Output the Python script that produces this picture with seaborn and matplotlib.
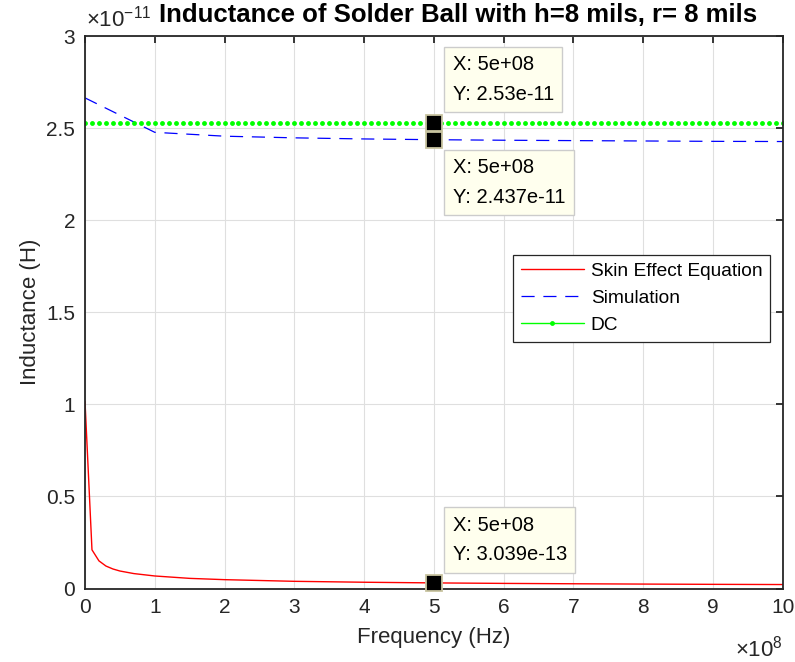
import numpy as np
import pandas as pd
import matplotlib
matplotlib.use("Agg")
import matplotlib.pyplot as plt
import seaborn as sns
from matplotlib.lines import Line2D

# ---------------- data ----------------
freq_skin = np.array([0, 0.1, 0.2, 0.3, 0.4, 0.5, 0.7, 1.0, 1.5, 2, 3, 4, 5, 6, 7, 8, 9, 10]) * 1e8
L_skin = np.array([1.016, 0.21, 0.15, 0.122, 0.106, 0.095, 0.081, 0.068, 0.055, 0.048,
                   0.039, 0.034, 0.03039, 0.0277, 0.0257, 0.024, 0.0226, 0.0215]) * 1e-11

freq_sim = np.array([0, 1, 2, 3, 4, 5, 6, 7, 8, 9, 10]) * 1e8
L_sim = np.array([2.664, 2.477, 2.456, 2.447, 2.441, 2.437, 2.434, 2.432, 2.430, 2.428, 2.427]) * 1e-11

freq_dc = np.linspace(0, 1e9, 101)
L_dc = np.full(freq_dc.shape, 2.53e-11)

tip_freq = 5e8
x_ticks = [0, 1, 2, 3, 4, 5, 6, 7, 8, 9, 10]
y_ticks = [0, 0.5, 1, 1.5, 2, 2.5, 3]
x_scale = 1e8
y_scale = 1e-11

title = "Inductance of Solder Ball with h=8 mils, r= 8 mils"
xlabel = "Frequency (Hz)"
ylabel = "Inductance (H)"
labels = ["Skin Effect Equation", "Simulation", "DC"]

# ---------------- style ----------------
sns.set_theme(style="whitegrid")
plt.rcParams["font.family"] = ["Liberation Sans", "DejaVu Sans"]
plt.rcParams["mathtext.fontset"] = "custom"
plt.rcParams["mathtext.rm"] = "Liberation Sans"
plt.rcParams["mathtext.it"] = "Liberation Sans"

DARK = "#262626"
fig = plt.figure(figsize=(7.95, 6.62), dpi=100)
ax = fig.add_axes([85 / 795, 1 - 588.5 / 662, (782.7 - 85) / 795, (588.5 - 36) / 662])

df_skin = pd.DataFrame({"f": freq_skin / x_scale, "L": L_skin / y_scale})
df_sim = pd.DataFrame({"f": freq_sim / x_scale, "L": L_sim / y_scale})
df_dc = pd.DataFrame({"f": freq_dc / x_scale, "L": L_dc / y_scale})

sns.lineplot(data=df_skin, x="f", y="L", ax=ax, color="#FF0000", lw=1.0, legend=False)
sns.lineplot(data=df_sim, x="f", y="L", ax=ax, color="#0000FF", lw=0.9, legend=False)
ax.lines[-1].set_dashes((10.5, 7))
sns.lineplot(data=df_dc, x="f", y="L", ax=ax, color="#00FF00", lw=0, marker="o",
             markersize=3.5, markeredgewidth=0, legend=False)

ax.set_xlim(0, 10)
ax.set_ylim(0, 3)
ax.set_xticks(x_ticks)
ax.set_yticks(y_ticks)
ax.set_xticklabels([f"{t:g}" for t in x_ticks])
ax.set_yticklabels([f"{t:g}" for t in y_ticks])
ax.grid(True, color="#DFDFDF", lw=0.8)
ax.set_axisbelow(True)
for s in ax.spines.values():
    s.set_visible(True)
    s.set_color(DARK)
    s.set_linewidth(1.3)
ax.tick_params(direction="in", length=5, width=1.3, top=True, right=True,
               colors=DARK, labelsize=15, pad=7)
ax.set_xlabel(xlabel, fontsize=16, color=DARK, labelpad=7)
ax.set_ylabel(ylabel, fontsize=16, color=DARK, labelpad=4)

# exponent labels
fig.text(86 / 795, 1 - 27 / 662, r"$\times10^{-11}$", fontsize=16, color=DARK,
         ha="left", va="baseline")
fig.text(783 / 795, 1 - 656 / 662, r"$\times10^{8}$", fontsize=16, color=DARK,
         ha="right", va="baseline")
fig.text(458 / 795, 1 - 14.5 / 662, title, fontsize=18.5, fontweight="bold",
         color="black", ha="center", va="center")

# legend
handles = [
    Line2D([], [], color="#FF0000", lw=1.0),
    Line2D([], [], color="#0000FF", lw=0.9, dashes=(10.5, 7)),
    Line2D([], [], color="#00FF00", lw=1.0, marker="o", markersize=3.5, markeredgewidth=0),
]
leg = ax.legend(handles, labels, loc="upper left", bbox_to_anchor=(0.6135, 0.6036),
                borderaxespad=0, fontsize=13.8, handlelength=3.3, handletextpad=0.35,
                labelspacing=0.5, borderpad=0.4, fancybox=False, framealpha=1,
                edgecolor=DARK, facecolor="white")
leg.get_frame().set_linewidth(0.9)
for t in leg.get_texts():
    t.set_color("black")

# data tips
tips = [
    (tip_freq, L_dc[np.argmin(np.abs(freq_dc - tip_freq))], "above"),
    (tip_freq, L_sim[np.argmin(np.abs(freq_sim - tip_freq))], "below"),
    (tip_freq, L_skin[np.argmin(np.abs(freq_skin - tip_freq))], "above"),
]
for fx, fy, where in tips:
    ax.plot(fx / x_scale, fy / y_scale, marker="s", markersize=11.5, color="black",
            markeredgecolor="#C8C4A0", markeredgewidth=1.3, zorder=6, clip_on=False)
    txt = f"X: {fx:g}\nY: {fy:g}"
    if where == "above":
        off, va = (13.5, 13.5), "bottom"
    else:
        off, va = (13.5, -13.5), "top"
    ax.annotate(txt, xy=(fx / x_scale, fy / y_scale), xytext=off, textcoords="offset points",
                ha="left", va=va, fontsize=14.5, color="black", linespacing=1.7, zorder=7,
                bbox=dict(boxstyle="square,pad=0.42", fc="#FFFFEE", ec="#CCCCCC", lw=1.0))

fig.savefig("out.png", dpi=100)
